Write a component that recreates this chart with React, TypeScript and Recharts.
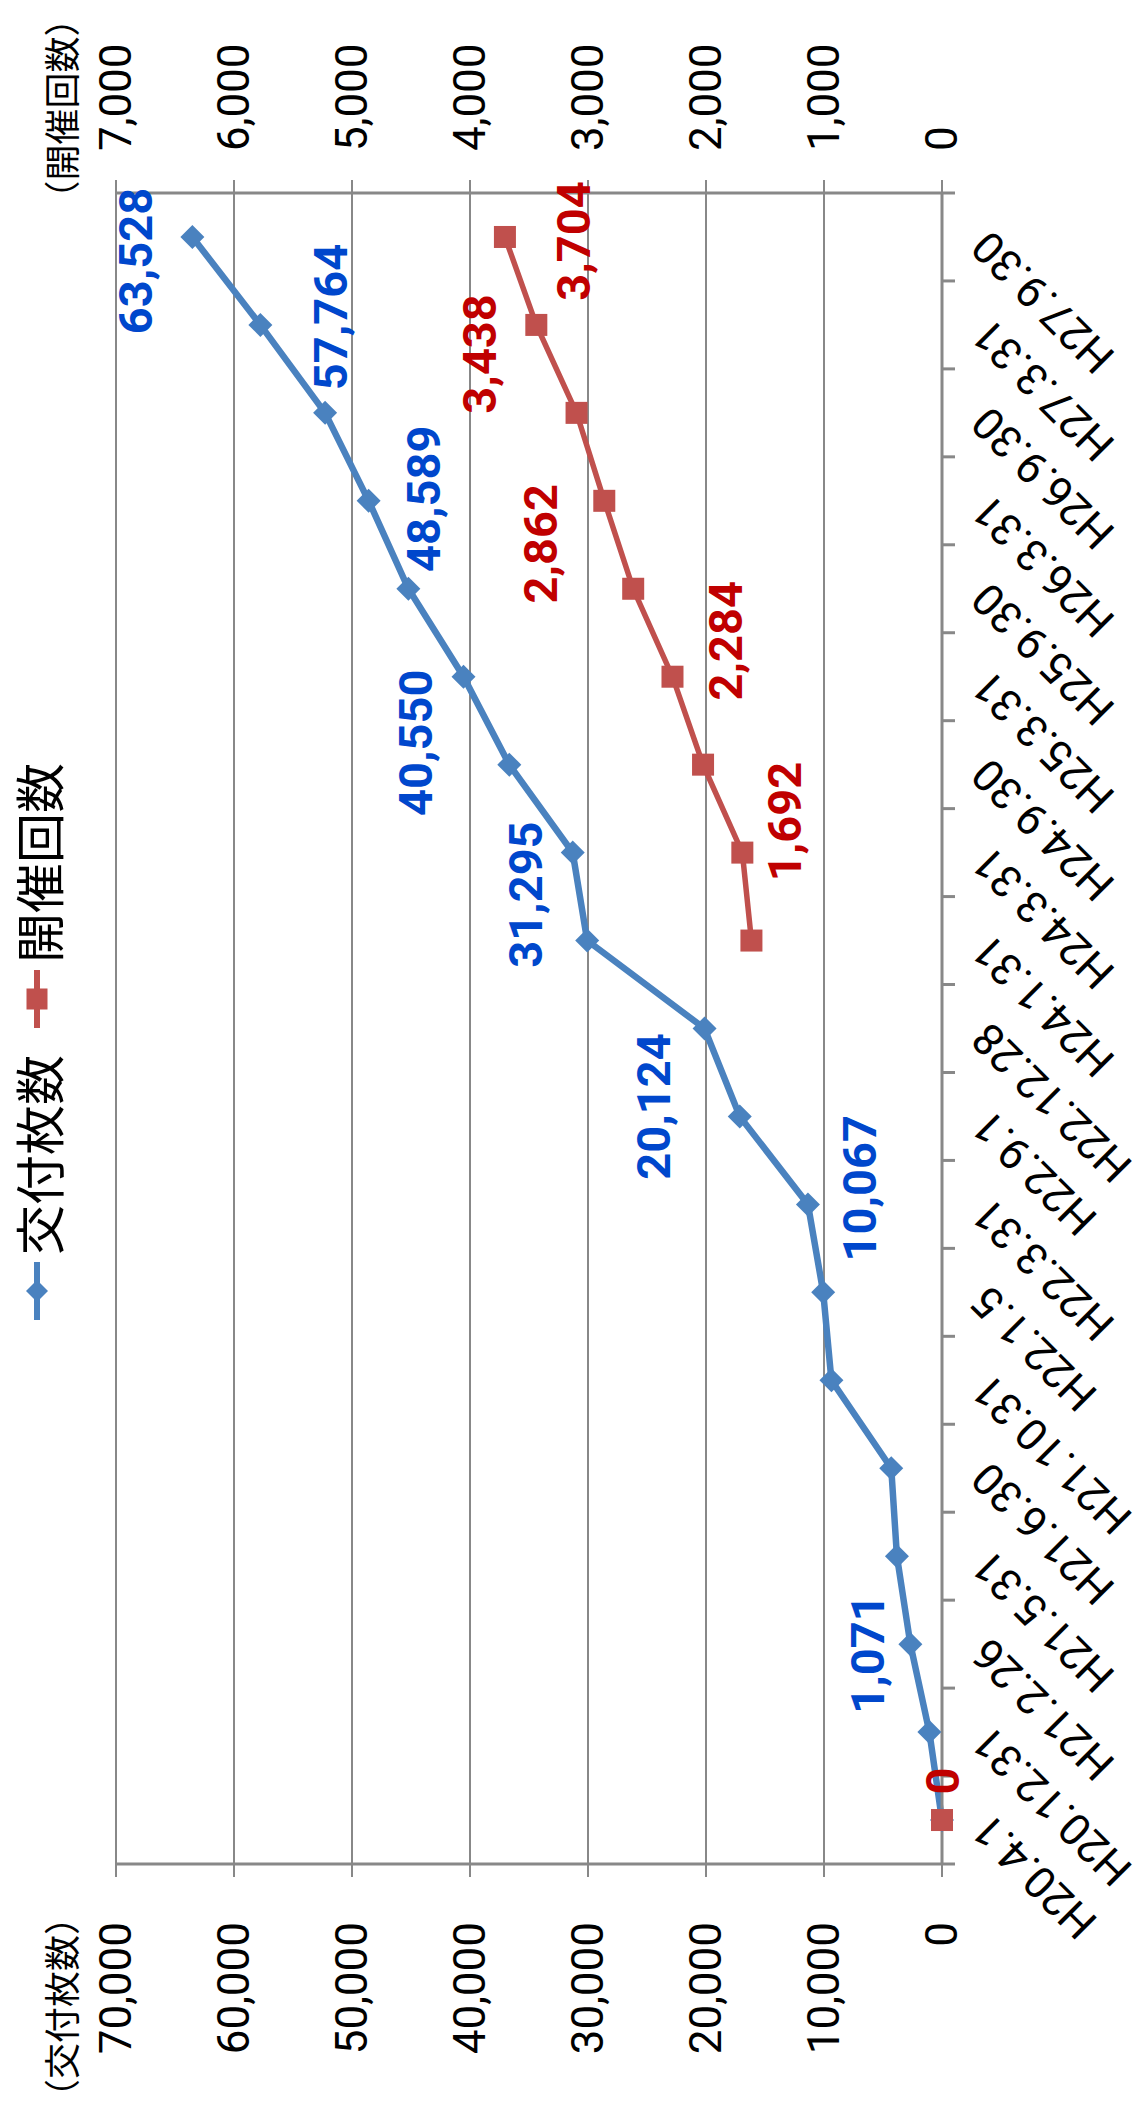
import React from "react";
import { LineChart, Line, XAxis, YAxis, CartesianGrid, Legend, LabelList, Label } from "recharts";

// categories (date of count), left to right in the unrotated chart
const categories = [
  "H20.4.1", "H20.12.31", "H21.2.26", "H21.5.31", "H21.6.30", "H21.10.31",
  "H22.1.5", "H22.3.31", "H22.9.1", "H22.12.28", "H24.1.31", "H24.3.31",
  "H24.9.30", "H25.3.31", "H25.9.30", "H26.3.31", "H26.9.30", "H27.3.31", "H27.9.30",
];

// 交付枚数
const issuedCounts: number[] = [
  0, 1071, 2680, 3820, 4300, 9370, 10067, 11360, 17140, 20124,
  30070, 31295, 36670, 40550, 45220, 48589, 52280, 57764, 63528,
];

// 開催回数 (no data between H20.12.31 and H22.12.28)
const eventCounts: (number | null)[] = [
  0, null, null, null, null, null, null, null, null, null,
  1615, 1692, 2025, 2284, 2617, 2862, 3097, 3438, 3704,
];

const issuedTicks = [0, 10000, 20000, 30000, 40000, 50000, 60000, 70000];
const eventTicks = [0, 1000, 2000, 3000, 4000, 5000, 6000, 7000];

// label nudges (dx, dy) relative to the point, keyed by category index
const issuedLabelOffsets: Record<number, [number, number]> = {
  1: [78, -62],
  6: [104, 36],
  9: [-78, -51],
  11: [-42, -47],
  13: [-66, -48],
  15: [2, 55],
  17: [8, 70],
  18: [-24, -57],
};
const eventLabelOffsets: Record<number, [number, number]> = {
  0: [39, 0],
  11: [31, 42],
  13: [36, 53],
  15: [-43, -64],
  17: [-29, -57],
  18: [-4, 69],
};

const CHART_W = 2116;
const CHART_H = 1142;
const LEFT_W = 252;
const RIGHT_W = 193;
const TOP = 116;
const XAXIS_H = 200;
const PLOT_W = CHART_W - LEFT_W - RIGHT_W;

const FONT = "Roboto, 'Noto Sans CJK JP', sans-serif";
const JP_FONT = "'Noto Sans CJK JP', sans-serif";
const BLUE = "#4A82BF";
const RED = "#C0504D";
const BLUE_TEXT = "#0047CC";
const RED_TEXT = "#C00000";
const GRID = "#888888";

const fmt = new Intl.NumberFormat("en-US");

const data = categories.map((date, i) => ({
  date,
  issued: issuedCounts[i],
  events: eventCounts[i],
}));

function CategoryTick(props: any) {
  const { x, y, payload, index } = props;
  const step = PLOT_W / categories.length;
  const tx = x - 2;
  const ty = y + 38;
  return (
    <g>
      <line x1={x - step / 2} x2={x - step / 2} y1={y} y2={y + 13} stroke={GRID} strokeWidth={3} />
      {index === categories.length - 1 && (
        <line x1={x + step / 2} x2={x + step / 2} y1={y} y2={y + 13} stroke={GRID} strokeWidth={3} />
      )}
      <text
        x={tx}
        y={ty}
        transform={`rotate(-45 ${tx} ${ty})`}
        textAnchor="end"
        dominantBaseline="central"
        fontSize={44}
        fontFamily={FONT}
        fill="#000"
      >
        {payload.value}
      </text>
    </g>
  );
}

function ValueTick(props: any) {
  const { x, y, payload, orientation } = props;
  return (
    <text
      x={x}
      y={y}
      textAnchor={orientation === "right" ? "start" : "end"}
      dominantBaseline="central"
      fontSize={44}
      fontFamily={FONT}
      fill="#000"
    >
      {fmt.format(payload.value)}
    </text>
  );
}

function axisTitle(text: string, dx: number) {
  return (props: any) => {
    const vb = props.viewBox;
    return (
      <text
        x={vb.x + vb.width / 2 + dx}
        y={vb.y - 56}
        textAnchor="middle"
        dominantBaseline="central"
        fontSize={36}
        fontFamily={JP_FONT}
        fill="#000"
      >
        {text}
      </text>
    );
  };
}

function makeValueLabel(offsets: Record<number, [number, number]>, color: string) {
  return (props: any) => {
    const { index, value } = props;
    const o = offsets[index];
    if (!o || value == null) return null;
    const vb = props.viewBox || {};
    const x = typeof props.x === "number" ? props.x : vb.x;
    const y = typeof props.y === "number" ? props.y : vb.y;
    if (x == null || y == null) return null;
    return (
      <text
        x={x + o[0]}
        y={y + o[1]}
        textAnchor="middle"
        dominantBaseline="central"
        fontSize={47}
        fontWeight={700}
        fontFamily={FONT}
        fill={color}
      >
        {fmt.format(value)}
      </text>
    );
  };
}

function DiamondDot(props: any) {
  const { cx, cy, index } = props;
  if (cx == null || cy == null) return <g key={`dd-${index}`} />;
  const r = 12;
  return (
    <path
      key={`dd-${index}`}
      d={`M${cx},${cy - r} L${cx + r},${cy} L${cx},${cy + r} L${cx - r},${cy} Z`}
      fill={BLUE}
    />
  );
}

function SquareDot(props: any) {
  const { cx, cy, index } = props;
  if (cx == null || cy == null) return <g key={`sd-${index}`} />;
  const h = 11;
  return <rect key={`sd-${index}`} x={cx - h} y={cy - h} width={h * 2} height={h * 2} fill={RED} />;
}

function LegendContent(props: any) {
  const items = props.payload || [];
  return (
    <div
      style={{
        display: "flex",
        alignItems: "center",
        height: 74,
        paddingLeft: 796,
        fontFamily: JP_FONT,
        fontSize: 50,
        color: "#000",
      }}
    >
      {items.map((it: any, i: number) => (
        <div key={it.value} style={{ display: "flex", alignItems: "center", marginLeft: i === 0 ? 0 : 27 }}>
          <svg width={58} height={24} style={{ display: "block" }}>
            <line x1={0} x2={58} y1={12} y2={12} stroke={it.color} strokeWidth={6} strokeLinecap="round" />
            {it.dataKey === "issued" ? (
              <path d="M29,1 L40,12 L29,23 L18,12 Z" fill={it.color} />
            ) : (
              <rect x={18.5} y={1.5} width={21} height={21} fill={it.color} />
            )}
          </svg>
          <span style={{ marginLeft: 7, lineHeight: 1 }}>{it.value}</span>
        </div>
      ))}
    </div>
  );
}

export default function App() {
  return (
    <div
      style={{
        position: "absolute",
        left: 0,
        top: 0,
        width: CHART_H,
        height: CHART_W,
        overflow: "hidden",
        background: "#fff",
      }}
    >
      <div
        style={{
          position: "absolute",
          left: 0,
          top: 0,
          width: CHART_W,
          height: CHART_H,
          transformOrigin: "0 0",
          transform: `translateY(${CHART_W}px) rotate(-90deg)`,
        }}
      >
        <LineChart
          width={CHART_W}
          height={CHART_H}
          data={data}
          margin={{ top: TOP, right: 0, bottom: 0, left: 0 }}
        >
          <CartesianGrid vertical={false} yAxisId="left" stroke={GRID} strokeWidth={2} />
          <XAxis
            dataKey="date"
            scale="band"
            height={XAXIS_H}
            interval={0}
            tickSize={0}
            tickMargin={0}
            tickLine={false}
            axisLine={{ stroke: GRID, strokeWidth: 3 }}
            tick={<CategoryTick />}
          />
          <YAxis
            yAxisId="left"
            width={LEFT_W}
            domain={[0, 70000]}
            ticks={issuedTicks}
            interval={0}
            tickSize={13}
            tickMargin={45}
            axisLine={{ stroke: GRID, strokeWidth: 3 }}
            tickLine={{ stroke: GRID, strokeWidth: 2 }}
            tick={<ValueTick />}
          >
            <Label content={axisTitle("（交付枚数）", -17)} />
          </YAxis>
          <YAxis
            yAxisId="right"
            orientation="right"
            width={RIGHT_W}
            domain={[0, 7000]}
            ticks={eventTicks}
            interval={0}
            tickSize={13}
            tickMargin={29}
            axisLine={{ stroke: GRID, strokeWidth: 3 }}
            tickLine={{ stroke: GRID, strokeWidth: 2 }}
            tick={<ValueTick />}
          >
            <Label content={axisTitle("（開催回数）", -12)} />
          </YAxis>
          <Legend
            layout="horizontal"
            verticalAlign="middle"
            align="center"
            wrapperStyle={{ top: 0, left: 0, width: CHART_W, height: 74 }}
            content={<LegendContent />}
          />
          <Line
            yAxisId="left"
            dataKey="issued"
            name="交付枚数"
            stroke={BLUE}
            strokeWidth={6.5}
            dot={(p: any) => <DiamondDot key={`d-${p.index}`} {...p} />}
            activeDot={false}
            isAnimationActive={false}
          >
            <LabelList dataKey="issued" content={makeValueLabel(issuedLabelOffsets, BLUE_TEXT)} />
          </Line>
          <Line
            yAxisId="right"
            dataKey="events"
            name="開催回数"
            stroke={RED}
            strokeWidth={5.5}
            dot={(p: any) => <SquareDot key={`s-${p.index}`} {...p} />}
            activeDot={false}
            isAnimationActive={false}
          >
            <LabelList dataKey="events" content={makeValueLabel(eventLabelOffsets, RED_TEXT)} />
          </Line>
        </LineChart>
      </div>
    </div>
  );
}
